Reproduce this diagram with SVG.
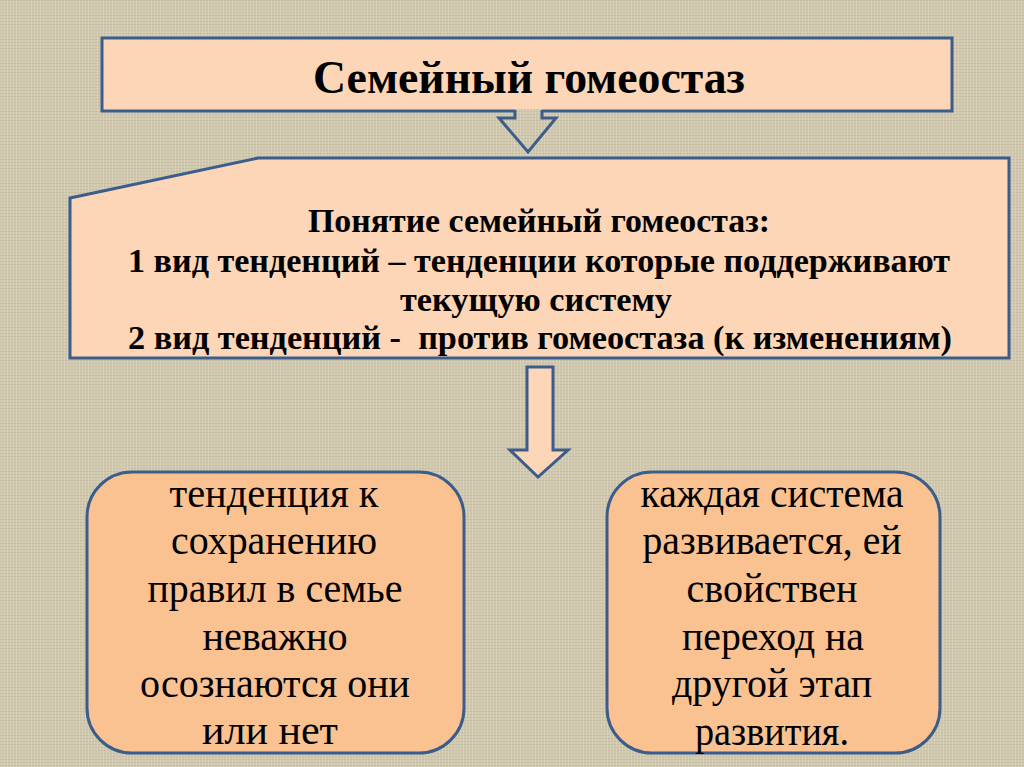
<svg xmlns="http://www.w3.org/2000/svg" width="1024" height="767" viewBox="0 0 1024 767">
  <defs>
    <pattern id="tex" width="6" height="6" patternUnits="userSpaceOnUse">
      <rect width="6" height="6" fill="#D0C8AF"/>
      <path d="M0,0.5 H6 M0,3.5 H6" stroke="#BFB69B" stroke-width="1" opacity="0.6"/>
      <path d="M1.5,0 V6 M4.5,0 V6" stroke="#E0D9C4" stroke-width="1" opacity="0.5"/>
    </pattern>
    <style>
      .box { stroke: #3B5D8C; stroke-width: 3; }
      .light { fill: #FCD6B6; }
      .orange { fill: #FAC291; }
      .t { font-family: "Liberation Serif", Tinos, "Times New Roman", "DejaVu Serif", "Noto Serif", serif; fill: #000; text-anchor: middle; }
      .bold { font-weight: bold; }
      .title { font-size: 46px; }
      .mid { font-size: 34px; }
      .low { font-size: 42px; }
    </style>
  </defs>
  <rect width="1024" height="767" fill="url(#tex)"/>

  <g id="title">
    <rect class="box light" x="102" y="38" width="850" height="73"/>
    <text class="t bold title" x="529" y="93" textLength="432" lengthAdjust="spacingAndGlyphs">Семейный гомеостаз</text>
  </g>

  <g id="concept">
    <polygon class="box light" points="70,198 258,158 1009,158 1009,358 70,358"/>
    <text class="t bold mid" x="539" y="232" textLength="462" lengthAdjust="spacingAndGlyphs">Понятие семейный гомеостаз:</text>
    <text class="t bold mid" x="539" y="272" textLength="822" lengthAdjust="spacingAndGlyphs">1 вид тенденций – тенденции которые поддерживают</text>
    <text class="t bold mid" x="536" y="311" textLength="272" lengthAdjust="spacingAndGlyphs">текущую систему</text>
    <text class="t bold mid" x="540" y="349" textLength="824" lengthAdjust="spacingAndGlyphs" xml:space="preserve">2 вид тенденций -  против гомеостаза (к изменениям)</text>
  </g>

  <g id="preserve">
    <rect class="box orange" x="87" y="472" width="377" height="281" rx="45" ry="45"/>
    <text class="t low" x="274" y="507" textLength="209" lengthAdjust="spacingAndGlyphs">тенденция к</text>
    <text class="t low" x="274" y="554" textLength="206" lengthAdjust="spacingAndGlyphs">сохранению</text>
    <text class="t low" x="275" y="602" textLength="255" lengthAdjust="spacingAndGlyphs">правил в семье</text>
    <text class="t low" x="275" y="650" textLength="145" lengthAdjust="spacingAndGlyphs">неважно</text>
    <text class="t low" x="275" y="697" textLength="270" lengthAdjust="spacingAndGlyphs">осознаются они</text>
    <text class="t low" x="270" y="744" textLength="136" lengthAdjust="spacingAndGlyphs">или нет</text>
  </g>

  <g id="develop">
    <rect class="box orange" x="607" y="472" width="333" height="281" rx="45" ry="45"/>
    <text class="t low" x="772" y="507" textLength="263" lengthAdjust="spacingAndGlyphs">каждая система</text>
    <text class="t low" x="772" y="554" textLength="259" lengthAdjust="spacingAndGlyphs">развивается, ей</text>
    <text class="t low" x="772" y="602" textLength="171" lengthAdjust="spacingAndGlyphs">свойствен</text>
    <text class="t low" x="773" y="650" textLength="182" lengthAdjust="spacingAndGlyphs">переход на</text>
    <text class="t low" x="772" y="697" textLength="200" lengthAdjust="spacingAndGlyphs">другой этап</text>
    <text class="t low" x="772" y="745" textLength="154" lengthAdjust="spacingAndGlyphs">развития.</text>
  </g>

  <g id="connectors">
    <polygon points="515,109 542,109 542,118 556,118 528,152 499,118 515,118" fill="url(#tex)"/>
    <path d="M515,110 V118 H499 L528,152 L556,118 H542 V110" fill="none" stroke="#3B5D8C" stroke-width="3" stroke-linejoin="miter"/>
    <polygon points="527,367 553,367 553,450 568,450 538,477 510,450 527,450" class="box light"/>
  </g>
</svg>
